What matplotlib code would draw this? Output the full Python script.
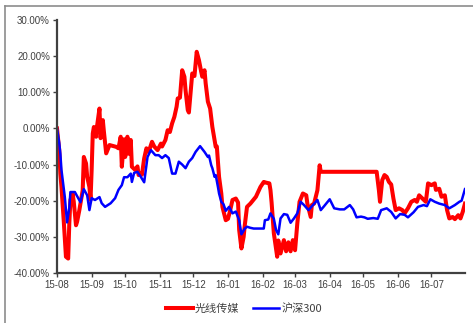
import pandas as pd
import matplotlib
matplotlib.use("Agg")
import matplotlib.pyplot as plt
import matplotlib.dates as mdates
from matplotlib.lines import Line2D
from matplotlib.ticker import FuncFormatter, MultipleLocator

plt.rcParams['font.family'] = ['Liberation Sans', 'Noto Sans CJK SC', 'DejaVu Sans']

# 光线传媒 cumulative return (%)
red_dates = [
    "2015-08-01", "2015-08-03", "2015-08-04", "2015-08-05", "2015-08-07", "2015-08-09",
    "2015-08-11", "2015-08-12", "2015-08-13", "2015-08-15", "2015-08-16", "2015-08-18",
    "2015-08-19", "2015-08-21", "2015-08-24", "2015-08-25", "2015-08-27", "2015-08-28",
    "2015-08-30", "2015-08-31", "2015-09-01", "2015-09-02", "2015-09-03", "2015-09-05",
    "2015-09-06", "2015-09-08", "2015-09-09", "2015-09-10", "2015-09-11", "2015-09-12",
    "2015-09-14", "2015-09-17", "2015-09-23", "2015-09-25", "2015-09-27", "2015-09-28",
    "2015-09-30", "2015-10-01", "2015-10-03", "2015-10-04", "2015-10-06", "2015-10-07",
    "2015-10-10", "2015-10-12", "2015-10-13", "2015-10-15", "2015-10-16", "2015-10-18",
    "2015-10-20", "2015-10-22", "2015-10-25", "2015-10-27", "2015-10-30", "2015-11-02",
    "2015-11-03", "2015-11-06", "2015-11-08", "2015-11-10", "2015-11-12", "2015-11-14",
    "2015-11-16", "2015-11-17", "2015-11-19", "2015-11-21", "2015-11-23", "2015-11-24",
    "2015-11-26", "2015-11-27", "2015-11-29", "2015-11-30", "2015-12-02", "2015-12-04",
    "2015-12-06", "2015-12-08", "2015-12-09", "2015-12-11", "2015-12-12", "2015-12-14",
    "2015-12-16", "2015-12-18", "2015-12-21", "2015-12-22", "2015-12-24", "2015-12-26",
    "2015-12-27", "2015-12-30", "2016-01-01", "2016-01-03", "2016-01-05", "2016-01-08",
    "2016-01-10", "2016-01-11", "2016-01-13", "2016-01-15", "2016-01-16", "2016-01-18",
    "2016-01-21", "2016-01-26", "2016-01-30", "2016-02-02", "2016-02-04", "2016-02-07",
    "2016-02-08", "2016-02-09", "2016-02-11", "2016-02-14", "2016-02-15", "2016-02-17",
    "2016-02-20", "2016-02-22", "2016-02-24", "2016-02-26", "2016-02-28", "2016-03-01",
    "2016-03-03", "2016-03-05", "2016-03-08", "2016-03-11", "2016-03-12", "2016-03-15",
    "2016-03-16", "2016-03-18", "2016-03-21", "2016-03-23", "2016-03-24", "2016-05-13",
    "2016-05-15", "2016-05-16", "2016-05-18", "2016-05-20", "2016-05-22", "2016-05-24",
    "2016-05-26", "2016-05-28", "2016-05-30", "2016-06-02", "2016-06-05", "2016-06-07",
    "2016-06-10", "2016-06-13", "2016-06-16", "2016-06-18", "2016-06-20", "2016-06-23",
    "2016-06-26", "2016-06-28", "2016-07-01", "2016-07-04", "2016-07-05", "2016-07-08",
    "2016-07-10", "2016-07-13", "2016-07-15", "2016-07-17", "2016-07-20", "2016-07-22",
    "2016-07-25", "2016-07-27", "2016-07-29", "2016-07-31",
]
red_values = [
    0, -6, -12.5, -16.2, -25.4, -35.5,
    -36, -26.3, -19.8, -18, -20.3, -26.8,
    -25.8, -22.6, -17.1, -7.9, -9.7, -13.4,
    -16.2, -19.8, -11.5, -1.4, 0.4, -2.3,
    1, 5.5, -2.7, -0.5, 2.3, -1,
    -6.9, -4.6, -5.1, -5.5, -2.3, -10.6,
    -3, -7.9, -2.3, -7, -3.2, -10.6,
    -11.5, -10.5, -12.9, -12.5, -12.8, -8.3,
    -5.5, -6.5, -3.7, -5, -6, -4.2,
    -5, -3.2, -0.5, -1, 1.4, 3.2,
    6, 8.3, 8.5, 16.1, 14.3, 10.6,
    5.1, 4.4, 11.5, 15.2, 14.5, 21.2,
    18.9, 15.7, 14.3, 16.1, 12.5, 7.4,
    5.5, 0.4, -5.1, -5, -13.4, -18,
    -21.7, -25.4, -25, -22.6, -19.8, -19.4,
    -20.5, -28.1, -33.2, -30, -26.8, -21.7,
    -20.8, -18.9, -16.2, -14.8, -15, -15.2,
    -17.1, -20.5, -29, -35.5, -31, -34.6,
    -30.9, -34, -31.5, -34, -30.9, -33.7,
    -26.3, -20.3, -18, -18.5, -20.8, -24.5,
    -21.2, -20.8, -17.1, -10.2, -12, -12,
    -17.1, -20.3, -14.3, -12.9, -13.4, -14.8,
    -15.5, -19.4, -22.6, -22.1, -22.6, -23.5,
    -22.1, -20.3, -19.8, -20.3, -18.5, -19.4,
    -20.3, -15.2, -15.7, -15.2, -17, -16.7,
    -18.9, -18.5, -22.6, -24.9, -24.5, -25.1,
    -24, -24.9, -23.1, -20.8,
]

# 沪深300 cumulative return (%)
blue_dates = [
    "2015-08-01", "2015-08-03", "2015-08-04", "2015-08-05", "2015-08-08", "2015-08-10",
    "2015-08-12", "2015-08-13", "2015-08-17", "2015-08-20", "2015-08-22", "2015-08-25",
    "2015-08-28", "2015-08-30", "2015-09-01", "2015-09-04", "2015-09-08", "2015-09-10",
    "2015-09-13", "2015-09-18", "2015-09-22", "2015-09-25", "2015-09-28", "2015-09-30",
    "2015-10-03", "2015-10-06", "2015-10-07", "2015-10-09", "2015-10-12", "2015-10-15",
    "2015-10-18", "2015-10-21", "2015-10-24", "2015-10-28", "2015-10-31", "2015-11-03",
    "2015-11-06", "2015-11-09", "2015-11-12", "2015-11-15", "2015-11-18", "2015-11-21",
    "2015-11-24", "2015-11-27", "2015-11-30", "2015-12-03", "2015-12-07", "2015-12-11",
    "2015-12-14", "2015-12-15", "2015-12-17", "2015-12-18", "2015-12-20", "2015-12-21",
    "2015-12-23", "2015-12-24", "2015-12-26", "2015-12-28", "2015-12-30", "2016-01-02",
    "2016-01-05", "2016-01-08", "2016-01-11", "2016-01-13", "2016-01-16", "2016-01-18",
    "2016-01-21", "2016-01-24", "2016-02-02", "2016-02-03", "2016-02-06", "2016-02-08",
    "2016-02-11", "2016-02-13", "2016-02-15", "2016-02-17", "2016-02-20", "2016-02-23",
    "2016-02-26", "2016-02-29", "2016-03-03", "2016-03-06", "2016-03-09", "2016-03-13",
    "2016-03-17", "2016-03-21", "2016-03-24", "2016-03-27", "2016-04-01", "2016-04-05",
    "2016-04-10", "2016-04-14", "2016-04-19", "2016-04-22", "2016-04-25", "2016-04-29",
    "2016-05-02", "2016-05-05", "2016-05-10", "2016-05-14", "2016-05-17", "2016-05-22",
    "2016-05-26", "2016-05-30", "2016-06-03", "2016-06-07", "2016-06-10", "2016-06-15",
    "2016-06-19", "2016-06-24", "2016-06-27", "2016-06-30", "2016-07-04", "2016-07-08",
    "2016-07-13", "2016-07-17", "2016-07-22", "2016-07-26", "2016-07-28", "2016-07-31",
]
blue_values = [
    0, -4, -7, -11.5, -19, -26,
    -22, -17.6, -17.6, -19.3, -20.4, -16.8,
    -18.5, -22.6, -19.3, -19.8, -19, -20.7,
    -21.7, -20.7, -19.3, -17, -15.7, -13.5,
    -13.5, -12.5, -14.8, -12.3, -12, -13.4,
    -14.9, -7.9, -6, -7.4, -7.4, -8.2,
    -7.4, -8.2, -12.5, -12.5, -9.2, -10,
    -11, -9.2, -8.2, -6.5, -4.9, -6.5,
    -7.9, -7.5, -10.2, -11, -13.4, -12.9,
    -16.2, -18, -20.3, -21, -22.8, -21.7,
    -23.5, -23, -25.4, -29.3, -27.7, -27.2,
    -27.5, -27.7, -27.7, -25.4, -25.2, -23.5,
    -25, -28.1, -29.3, -24.9, -23.7, -23.9,
    -26.1, -24.9, -23.5, -20.3, -21.2, -22.6,
    -21.2, -19.8, -22.6, -21.5, -19.6, -22.1,
    -22.4, -22.4, -21.2, -22.4, -24.6, -24.4,
    -24.6, -25, -24.8, -25, -22.6, -22.1,
    -23.1, -24.9, -23.7, -23.9, -24.6, -23.2,
    -21.7, -21.2, -21.5, -19.6, -20.3, -20.8,
    -21.2, -22.1, -21.2, -20.3, -20, -16.8,
]

fig = plt.figure(figsize=(4.73, 3.23), dpi=100)
ax = fig.add_axes([0.1205, 0.1548, 0.8625, 0.7833])

ax.plot(pd.to_datetime(red_dates), red_values, color='#ff0000', lw=2.9,
        solid_joinstyle='round', label='光线传媒')
ax.plot(pd.to_datetime(blue_dates), blue_values, color='#0000ff', lw=1.8,
        solid_joinstyle='round', label='沪深300')

ax.set_ylim(-40, 30)
ax.set_xlim(pd.Timestamp("2015-08-01"), pd.Timestamp("2016-07-31"))
ax.yaxis.set_major_locator(MultipleLocator(10))
ax.yaxis.set_major_formatter(FuncFormatter(lambda v, p: f"{v:.2f}%"))
ax.xaxis.set_major_locator(mdates.MonthLocator())
ax.xaxis.set_major_formatter(mdates.DateFormatter("%y-%m"))

for s in ['top', 'right']:
    ax.spines[s].set_visible(False)
for s in ['left', 'bottom']:
    ax.spines[s].set_color('#404040')
    ax.spines[s].set_linewidth(1.6)
ax.tick_params(axis='both', direction='out', length=3, width=1, color='#404040',
               labelsize=7, labelcolor='#404040', pad=2)

leg = fig.legend(loc='center', bbox_to_anchor=(0.516, 0.046), ncol=2, frameon=False,
                 prop={'family': ['Noto Sans CJK SC', 'DejaVu Sans'], 'size': 8},
                 handlelength=2.4, columnspacing=1.2, handletextpad=0.2)
for t in leg.get_texts():
    t.set_color('#404040')

# outer frame
fig.add_artist(Line2D([5 / 473, 1], [1 - 6 / 323, 1 - 6 / 323], color='#8c8c8c', lw=1.2))
fig.add_artist(Line2D([5 / 473, 5 / 473], [0, 1 - 6 / 323], color='#8c8c8c', lw=1.2))

fig.savefig("out.png", dpi=100)
